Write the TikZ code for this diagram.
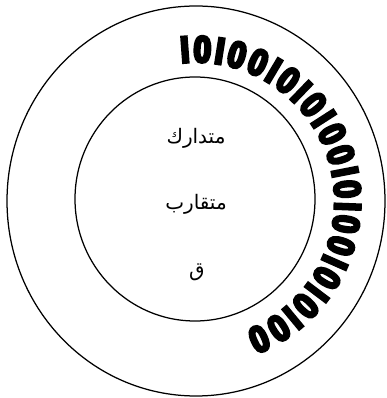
\documentclass[tikz,border=0pt]{standalone}
\usepackage{fontspec}
\usetikzlibrary{decorations.text,calc}
\TeXXeTstate=1
\newfontfamily\arabicfont[Script=Arabic]{DejaVu Sans}
\newfontfamily\binfont{Liberation Sans Bold}[FakeBold=8,FakeStretch=0.85]
\tikzset{
  ring/.style={draw=black,line width=1.25pt},
  artext/.style={font=\arabicfont\fontsize{20}{20}\selectfont,inner sep=0pt}
}
\begin{document}
\begin{tikzpicture}[x=1pt,y=1pt]
\useasboundingbox (0,0) rectangle (387,398);
\coordinate (c) at (196,197);
\draw[ring] (c) ellipse[x radius=189,y radius=195];
\draw[ring] (195,199) ellipse[x radius=120,y radius=122];
\path[decorate,decoration={text along path,text align=fit to path,
  text format delimiters={|}{|},
  text={|\binfont\fontsize{37}{37}\selectfont|I0I00I0I0I00I0I00I0I0I00}}]
  ($(c)+(96:139)$) arc[start angle=96,end angle=-69,radius=139];
\node[artext] (l1) at (196,260) {\beginR متدارك\endR};
\node[artext] (l2) at (196,194) {\beginR متقارب\endR};
\node[artext] (l3) at (197,126) {\beginR ق\endR};
\end{tikzpicture}
\end{document}
